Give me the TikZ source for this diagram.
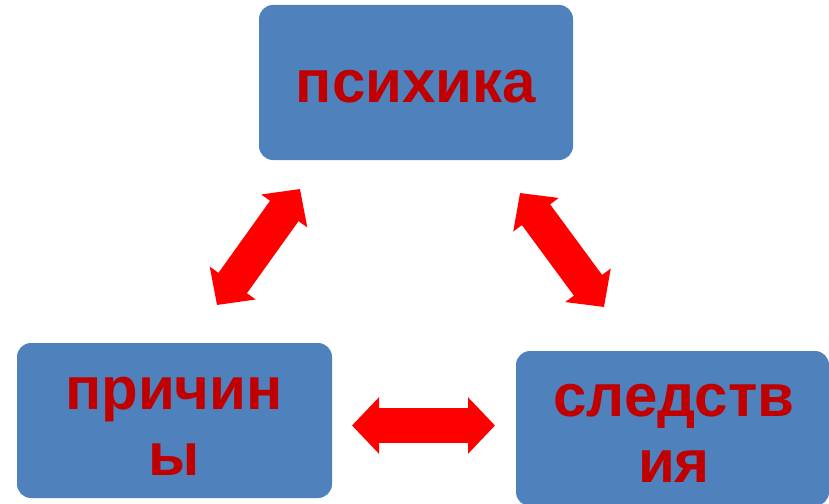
\documentclass[tikz,border=0pt]{standalone}
\usepackage{fontspec}
\setmainfont{Liberation Sans}
\usetikzlibrary{arrows.meta}
\definecolor{boxblue}{HTML}{4F81BD}
\definecolor{txtred}{HTML}{C00000}
\definecolor{arrred}{HTML}{FF0000}
\tikzset{
  box/.style={rectangle, rounded corners=14pt, fill=boxblue, draw=none, inner sep=0pt},
  lbl/.style={inner sep=0pt, text=txtred, align=center, font=\fontsize{60}{66}\selectfont\bfseries},
  dblarrow/.style={draw=arrred, line width=35pt,
    {Triangle[width=55pt,length=27pt,fill=arrred]}-{Triangle[width=55pt,length=27pt,fill=arrred]}}
}
\begin{document}
\begin{tikzpicture}[x=1pt,y=-1pt]
\useasboundingbox (0,0) rectangle (829,503);
% boxes
\node[box, minimum width=314pt, minimum height=155pt] (psy) at (416,82.5) {};
\node[box, minimum width=315pt, minimum height=155pt] (cause) at (174.5,420.5) {};
\node[box, minimum width=313pt, minimum height=155pt] (cons) at (672.5,428.5) {};
% texts
\node[lbl, anchor=base] (tpsy) at (416,102) {психика};
\node[lbl, anchor=north] (tcause) at (174,377) {причин\\ы};
\node[lbl, anchor=north] (tcons) at (674,384) {следств\\ия};
% arrow ends
\coordinate (a1) at (217,305);
\coordinate (a2) at (300,189);
\coordinate (b1) at (520,193);
\coordinate (b2) at (604,307);
\coordinate (c1) at (352,425.5);
\coordinate (c2) at (495,425.5);
\draw[dblarrow] (a1) -- (a2);
\draw[dblarrow] (b1) -- (b2);
\draw[dblarrow] (c1) -- (c2);
\end{tikzpicture}
\end{document}
